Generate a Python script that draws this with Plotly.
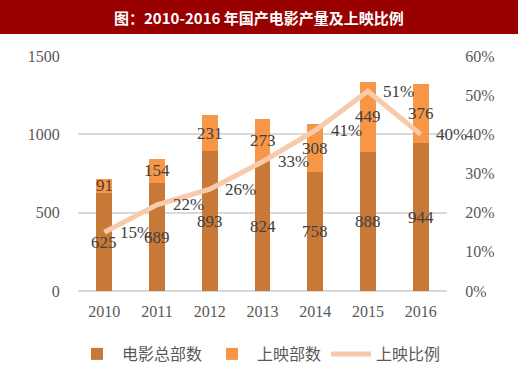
import plotly.graph_objects as go

years = ["2010", "2011", "2012", "2013", "2014", "2015", "2016"]
total_films = [625, 689, 893, 824, 758, 888, 944]
released_films = [91, 154, 231, 273, 308, 449, 376]
release_ratio = [0.15, 0.22, 0.26, 0.33, 0.41, 0.51, 0.40]
ratio_labels = ["15%", "22%", "26%", "33%", "41%", "51%", "40%"]

title_text = "图：2010-2016 年国产电影产量及上映比例"
names = ["电影总部数", "上映部数", "上映比例"]

C_DARK = "#C87837"
C_ORANGE = "#F79646"
C_LINE = "#F8C9AA"
TXT = "#404040"
TICK = "#595959"
SERIF = "Liberation Serif, Times New Roman, serif"
CJK = "Noto Sans CJK SC"

W, H = 520, 371
ML, MR, MT, MB = 78, 73, 56, 80

fig = go.Figure()
fig.add_trace(go.Bar(x=years, y=total_films, name=names[0], marker_color=C_DARK,
                     marker_line_width=0))
fig.add_trace(go.Bar(x=years, y=released_films, name=names[1], marker_color=C_ORANGE,
                     marker_line_width=0))
fig.add_trace(go.Scatter(x=years, y=release_ratio, name=names[2], yaxis="y2",
                         mode="lines", line=dict(color=C_LINE, width=5)))

annotations = []
lab_font = dict(family=SERIF, size=17, color=TXT)
for i, (t, r) in enumerate(zip(total_films, released_films)):
    annotations.append(dict(x=i, y=t / 2, xref="x", yref="y", text=str(t),
                            showarrow=False, font=lab_font))
    annotations.append(dict(x=i, y=t + r / 2, xref="x", yref="y", text=str(r),
                            showarrow=False, font=lab_font))
for i, (v, lab) in enumerate(zip(release_ratio, ratio_labels)):
    annotations.append(dict(x=i, y=v, xref="x", yref="y2", text=lab, xshift=31,
                            showarrow=False, font=lab_font))

# title bar
pw = W - ML - MR
ph = H - MT - MB
shapes = [dict(type="rect", xref="paper", yref="paper",
               x0=(0 - ML) / pw, x1=(518 - ML) / pw,
               y0=(H - MB - 34) / ph, y1=(H - MB - 0) / ph,
               fillcolor="#990000", line_width=0, layer="below")]
annotations.append(dict(x=(259 - ML) / pw, y=(H - MB - 17) / ph, xref="paper", yref="paper",
                        text="<b>" + title_text + "</b>", showarrow=False,
                        xanchor="center", yanchor="middle",
                        font=dict(family=CJK, size=15, color="white")))

fig.update_layout(
    width=W, height=H,
    margin=dict(l=ML, r=MR, t=MT, b=MB, autoexpand=False),
    barmode="stack",
    bargap=0.70,
    paper_bgcolor="white",
    plot_bgcolor="white",
    showlegend=True,
    legend=dict(orientation="h", x=(259 - ML) / pw, xref="paper", xanchor="center",
                y=(H - MB - 354) / ph, yanchor="middle",
                font=dict(family=CJK, size=16, color=TICK), itemwidth=40,
                traceorder="normal"),
    xaxis=dict(type="category", range=[-0.5, len(years) - 0.5], showgrid=False, showline=False,
               ticks="outside", ticklen=6, tickcolor="rgba(0,0,0,0)",
               tickfont=dict(family=SERIF, size=16, color=TICK)),
    yaxis=dict(range=[0, 1500], dtick=500, showgrid=True, gridcolor="#D9D9D9", gridwidth=1.5,
               zeroline=True, zerolinecolor="#D9D9D9", zerolinewidth=1.5,
               ticks="outside", ticklen=14, tickcolor="rgba(0,0,0,0)",
               tickfont=dict(family=SERIF, size=16, color=TICK)),
    yaxis2=dict(range=[0, 0.6], dtick=0.1, tickformat=".0%", overlaying="y", side="right",
                showgrid=False, zeroline=False,
                ticks="outside", ticklen=14, tickcolor="rgba(0,0,0,0)",
                tickfont=dict(family=SERIF, size=16, color=TICK)),
    annotations=annotations,
    shapes=shapes,
)

fig.write_html("out.html", config={"displayModeBar": False},
               post_script="document.body.style.margin='0';")
